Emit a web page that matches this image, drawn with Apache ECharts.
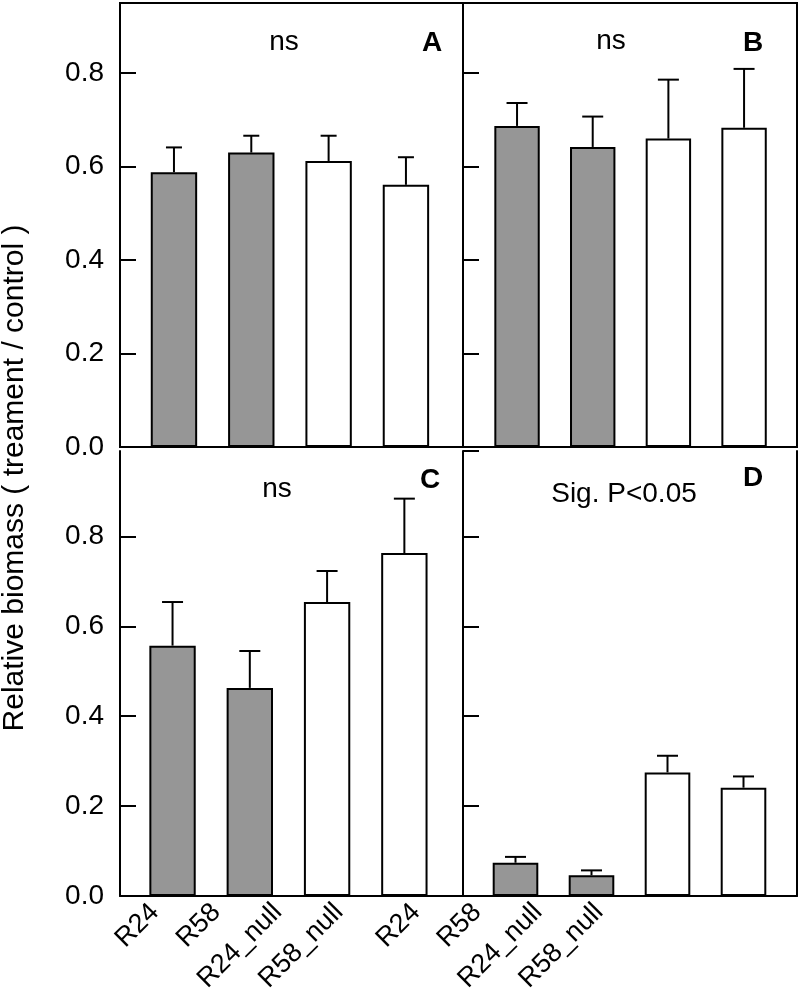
<!DOCTYPE html>
<html><head><meta charset="utf-8">
<script src="https://cdn.jsdelivr.net/npm/echarts@6/dist/echarts.min.js"></script>
<style>html,body{margin:0;padding:0;background:#fff}#c{width:800px;height:1000px}</style>
</head><body><div id="c"></div>
<script>
// ---- data ----
const categories = ['R24', 'R58', 'R24_null', 'R58_null'];
const meanA = [0.588, 0.630, 0.612, 0.561];
const seA   = [0.053, 0.036, 0.054, 0.059];
const meanB = [0.687, 0.642, 0.660, 0.683];
const seB   = [0.049, 0.065, 0.126, 0.126];
const meanC = [0.557, 0.463, 0.654, 0.763];
const seC   = [0.097, 0.082, 0.069, 0.121];
const meanD = [0.074, 0.046, 0.275, 0.241];
const seD   = [0.013, 0.011, 0.037, 0.025];
const panelLetters = ['A', 'B', 'C', 'D'];
const panelNotes = ['ns', 'ns', 'ns', 'Sig. P<0.05'];
const yTitle = 'Relative biomass ( treament / control )';

// ---- layout / style ----
const FONT = '"Liberation Sans", Arial, sans-serif';
const GREY = '#969696';
const panels = [
  {mean: meanA, se: seA, ymax: 0.95, box: {left: 120, top: 3, width: 343, height: 444}, inner: {left: 135.3, width: 309.3}, closed: true, yLabels: true, cap: 16,
   note: [284, 42], letter: [432, 43]},
  {mean: meanB, se: seB, ymax: 0.95, box: {left: 463, top: 3, width: 334, height: 444}, inner: {left: 479.2, width: 302.7}, closed: true, yLabels: false, cap: 21,
   note: [611, 41], letter: [753, 43]},
  {mean: meanC, se: seC, ymax: 0.99, box: {left: 120, top: 451, width: 343, height: 445}, inner: {left: 133.9, width: 309.1}, closed: false, yLabels: true, cap: 21,
   labels: {left: 124.3, width: 245.3}, note: [277, 489], letter: [430, 480]},
  {mean: meanD, se: seD, ymax: 0.99, box: {left: 463, top: 451, width: 334, height: 445}, inner: {left: 477.5, width: 304}, closed: false, yLabels: false, cap: 21, rightLine: true,
   labels: {left: 385.5, width: 244}, note: [624, 494], letter: [753, 478]}
];

const grid = [], xAxis = [], yAxis = [], series = [], graphic = [];
const blackLine = {show: true, lineStyle: {color: '#000', width: 2}};

panels.forEach((p, i) => {
  // outer grid: box + y axis
  const g0 = grid.length;
  grid.push({left: p.box.left, top: p.box.top, width: p.box.width, height: p.box.height,
    show: p.closed, borderColor: '#000', borderWidth: 2, backgroundColor: 'transparent'});
  xAxis.push({gridIndex: g0, type: 'value', min: 0, max: 1, show: !p.closed,
    axisLine: blackLine, axisTick: {show: false}, axisLabel: {show: false}, splitLine: {show: false}});
  yAxis.push({gridIndex: g0, type: 'value', min: 0, max: p.ymax, interval: 0.2,
    axisLine: blackLine,
    axisTick: {show: true, inside: true, length: 16, lineStyle: {color: '#000', width: 2}},
    axisLabel: {show: p.yLabels, showMaxLabel: false, fontSize: 28, color: '#000', fontFamily: FONT, margin: 16,
      formatter: v => v.toFixed(1)},
    splitLine: {show: false}});
  if (p.rightLine) {
    yAxis.push({gridIndex: g0, type: 'value', min: 0, max: p.ymax, position: 'right',
      axisLine: blackLine, axisTick: {show: false}, axisLabel: {show: false}, splitLine: {show: false}});
  }
  // inner grid: bars
  const g1 = grid.length;
  grid.push({left: p.inner.left, top: p.box.top, width: p.inner.width, height: p.box.height, show: false});
  const xi = xAxis.length;
  xAxis.push({gridIndex: g1, type: 'category', data: categories,
    axisLine: {show: false}, axisTick: {show: false}, axisLabel: {show: false}, splitLine: {show: false}});
  const yi = yAxis.length;
  yAxis.push({gridIndex: g1, type: 'value', min: 0, max: p.ymax, show: false});

  series.push({type: 'bar', xAxisIndex: xi, yAxisIndex: yi, barWidth: '60%',
    data: p.mean.map((v, j) => ({value: v, itemStyle: {color: j < 2 ? GREY : '#ffffff'}})),
    itemStyle: {borderColor: '#000', borderWidth: 2}, silent: true});
  const cap = p.cap;
  series.push({type: 'custom', xAxisIndex: xi, yAxisIndex: yi, z: 3,
    data: p.mean.map((v, j) => [j, v, v + p.se[j]]),
    encode: {x: 0, y: [1, 2]},
    renderItem: (params, api) => {
      const x = api.value(0);
      const lo = api.coord([x, api.value(1)]);
      const hi = api.coord([x, api.value(2)]);
      const hw = cap / 2;
      return {type: 'group', children: [
        {type: 'line', shape: {x1: lo[0], y1: lo[1], x2: hi[0], y2: hi[1]}, style: {stroke: '#000', lineWidth: 2}},
        {type: 'line', shape: {x1: hi[0] - hw, y1: hi[1], x2: hi[0] + hw, y2: hi[1]}, style: {stroke: '#000', lineWidth: 2}}
      ]};
    }});

  // label grid (bottom panels)
  if (p.labels) {
    const g2 = grid.length;
    grid.push({left: p.labels.left, top: p.box.top, width: p.labels.width, height: p.box.height, show: false});
    xAxis.push({gridIndex: g2, type: 'category', data: categories,
      axisLine: {show: false}, axisTick: {show: false}, splitLine: {show: false},
      axisLabel: {show: true, rotate: 45, fontSize: 27, color: '#000', fontFamily: FONT, margin: 12, interval: 0}});
    yAxis.push({gridIndex: g2, type: 'value', min: 0, max: p.ymax, show: false});
  }

  graphic.push({type: 'text', x: p.note[0], y: p.note[1],
    style: {text: panelNotes[i], font: '28px ' + FONT, fill: '#000', textAlign: 'center', textVerticalAlign: 'middle'}});
  graphic.push({type: 'text', x: p.letter[0], y: p.letter[1],
    style: {text: panelLetters[i], font: 'bold 28px ' + FONT, fill: '#000', textAlign: 'center', textVerticalAlign: 'middle'}});
});

graphic.push({type: 'text', x: 15, y: 478, rotation: Math.PI / 2,
  style: {text: yTitle, font: '30px ' + FONT, fill: '#000', textAlign: 'center', textVerticalAlign: 'middle'}});

const chart = echarts.init(document.getElementById('c'), null, {renderer: 'canvas'});
chart.setOption({animation: false, backgroundColor: '#fff', grid, xAxis, yAxis, series, graphic});
</script>
</body></html>
